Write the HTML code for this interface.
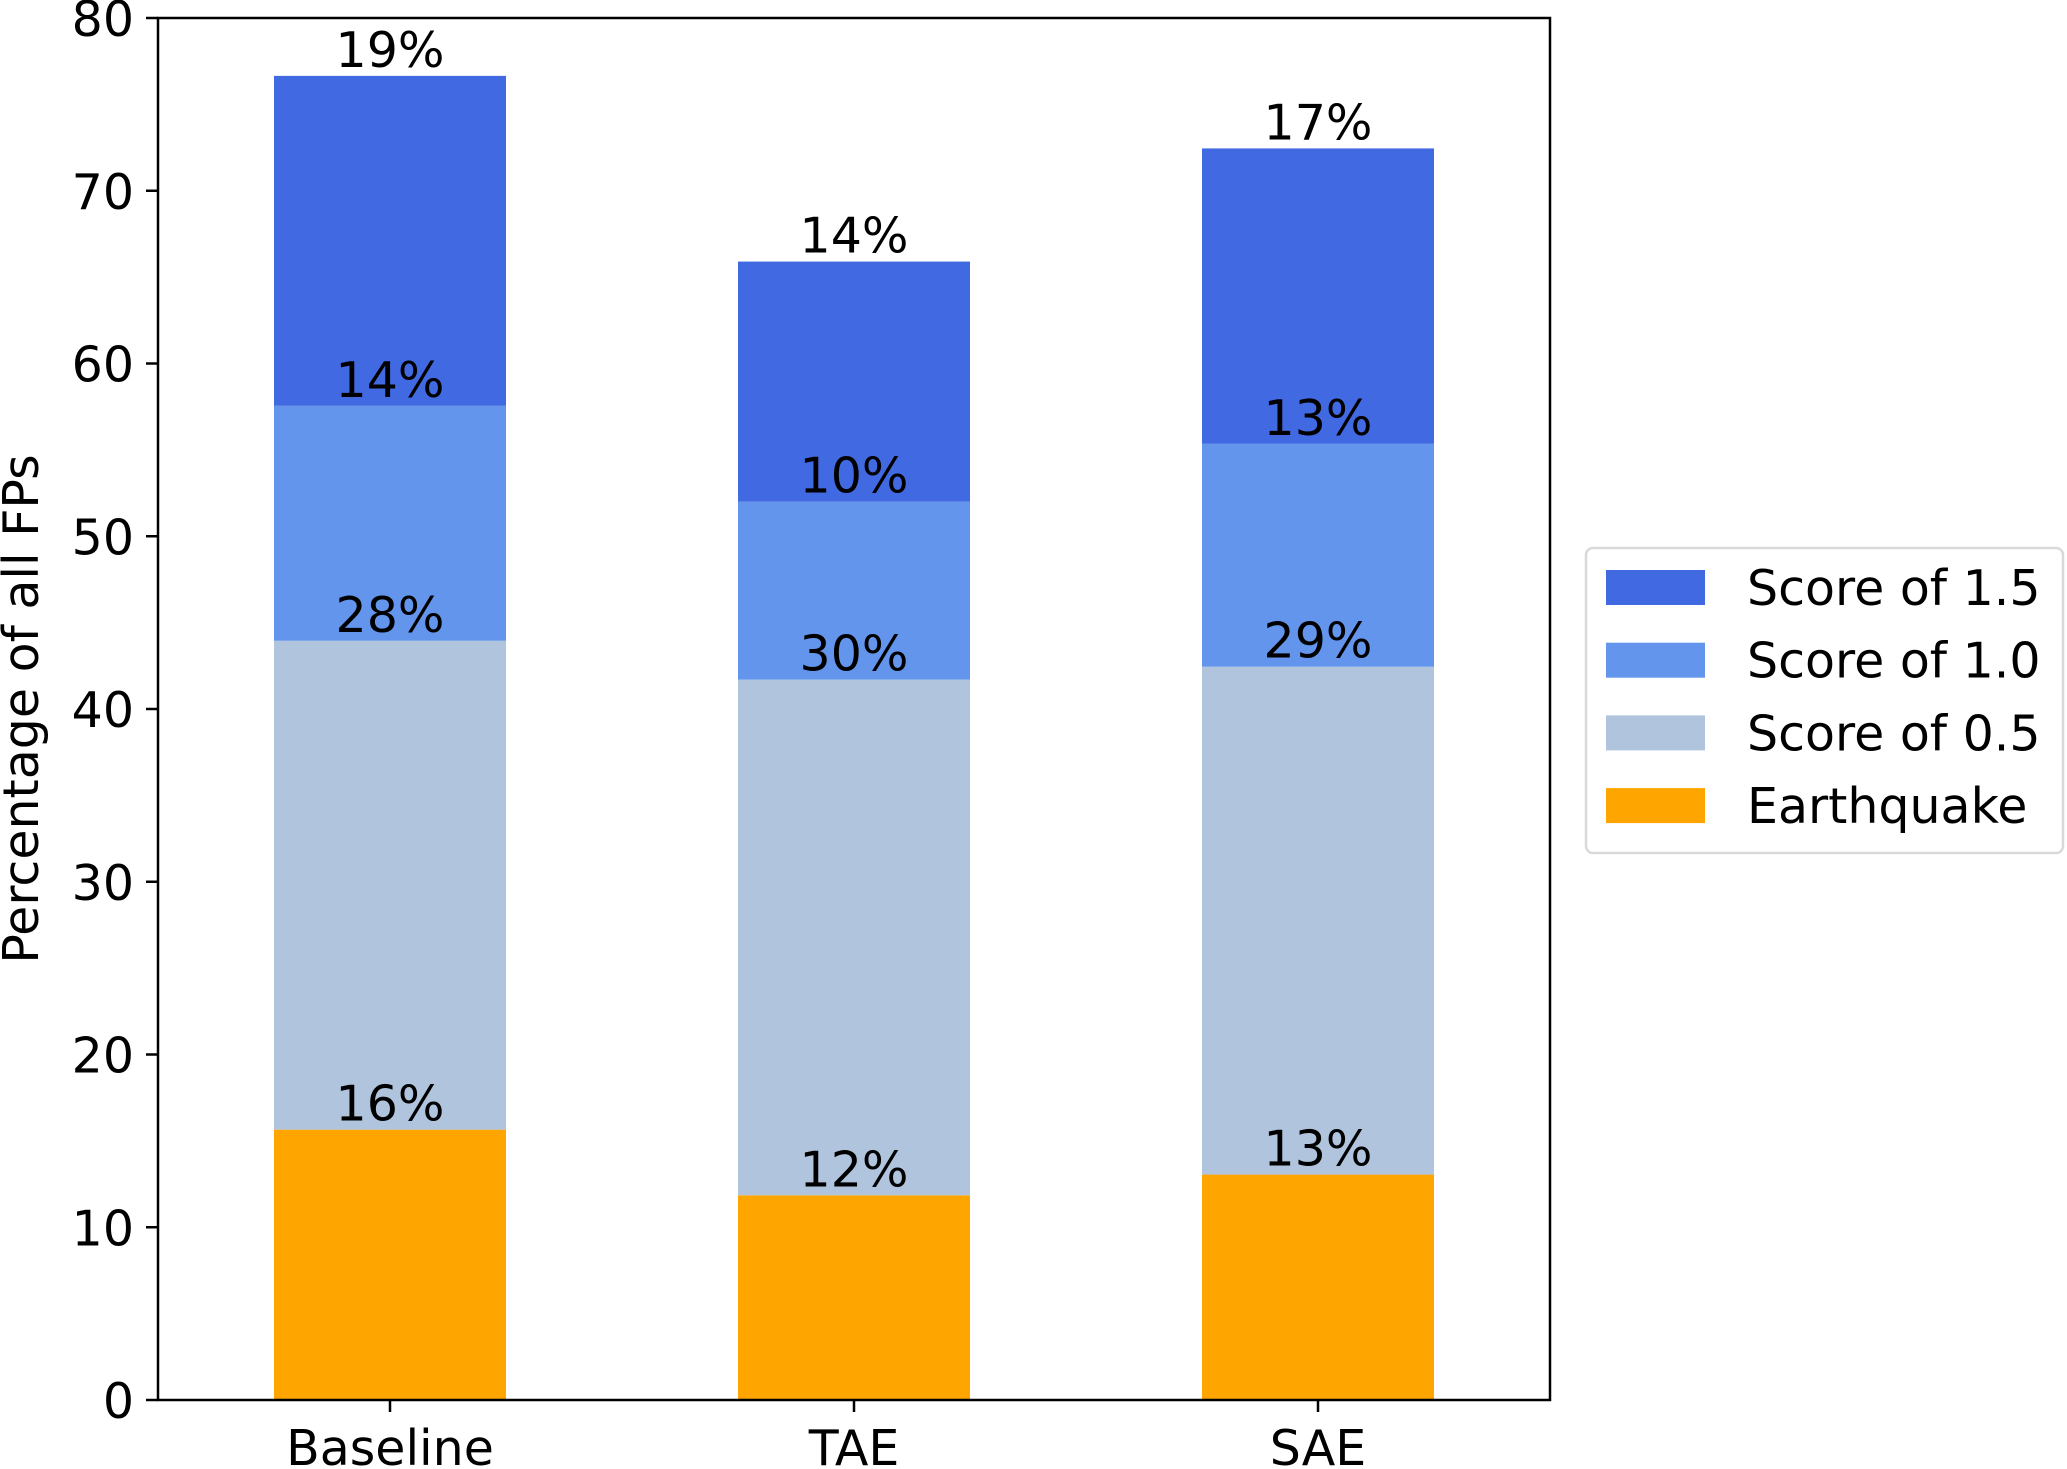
<!DOCTYPE html>
<html><head><meta charset="utf-8"><style>
html,body{margin:0;padding:0;background:#fff;}
svg{display:block;font-family:"DejaVu Sans","Liberation Sans",sans-serif;}
</style></head><body>
<svg id="chart" width="2067" height="1469" viewBox="0 0 2067 1469">
<g id="bars"></g>
<g id="labels"></g>
<g id="axes"></g>
<text x="0" y="0" transform="translate(38,709) rotate(-90)" text-anchor="middle" font-size="49">Percentage of all FPs</text>
<g>
<rect x="1586" y="548" width="477" height="305" rx="7" fill="#fff" stroke="#d9d9d9" stroke-width="2.5"/>
<g id="legend-items"></g>
</g>
</svg>
<script>
const categories = ["Baseline","TAE","SAE"];
const earthquake = [15.65, 11.85, 13.05];
const score05 = [28.3, 29.85, 29.4];
const score10 = [13.6, 10.3, 12.9];
const score15 = [19.1, 13.9, 17.1];
const yTicks = [0,10,20,30,40,50,60,70,80];
const seriesNames = ["Earthquake","Score of 0.5","Score of 1.0","Score of 1.5"];

const L=158,R=1550,T=18,B=1400;
const x = v => L + (v+0.5)/3*(R-L);
const y = v => B - v/80*(B-T);
const NS="http://www.w3.org/2000/svg";
function mk(tag, attrs, parent){const e=document.createElementNS(NS,tag);for(const k in attrs)e.setAttribute(k,attrs[k]);parent.appendChild(e);return e;}
const series=[earthquake,score05,score10,score15];
const colors=["#ffa500","#b0c4de","#6495ed","#4169e1"];
const keys=["earthquake","score-0-5","score-1-0","score-1-5"];
const gb=document.getElementById('bars'), gl=document.getElementById('labels'), ga=document.getElementById('axes');
categories.forEach((c,i)=>{
  let base=0;
  series.forEach((s,j)=>{
    const top=base+s[i];
    const r=mk('rect',{x:x(i-0.25),y:y(top),width:x(i+0.25)-x(i-0.25),height:y(base)-y(top),fill:colors[j]},gb);
    
    
    const t=mk('text',{x:x(i),y:y(top)-9,'text-anchor':'middle','font-size':49},gl);
    t.textContent=Math.round(s[i])+'%';
    
    
    base=top;
  });
  const tk=mk('line',{x1:x(i),x2:x(i),y1:B,y2:B+12,stroke:'#000','stroke-width':2.5},ga);
  
  
  const tl=mk('text',{x:x(i),y:B+65,'text-anchor':'middle','font-size':49},ga);
  tl.textContent=c;
  
  
});
yTicks.forEach(v=>{
  const tk=mk('line',{x1:L-12,x2:L,y1:y(v),y2:y(v),stroke:'#000','stroke-width':2.5},ga);
  
  
  const tl=mk('text',{x:L-24,y:y(v)+18,'text-anchor':'end','font-size':49},ga);
  tl.textContent=v;
  
  
});
const frame=mk('rect',{x:L,y:T,width:R-L,height:B-T,fill:'none',stroke:'#000','stroke-width':2.5},ga);


const gi=document.getElementById('legend-items');
[3,2,1,0].forEach((j,k)=>{
  const cy=587+k*72.7;
  const p=mk('rect',{x:1606,y:cy-17,width:99,height:35,fill:colors[j]},gi);
  
  
  const t=mk('text',{x:1747,y:cy+18,'font-size':49},gi);
  t.textContent=seriesNames[j];
  
  
});
</script>
</body></html>
